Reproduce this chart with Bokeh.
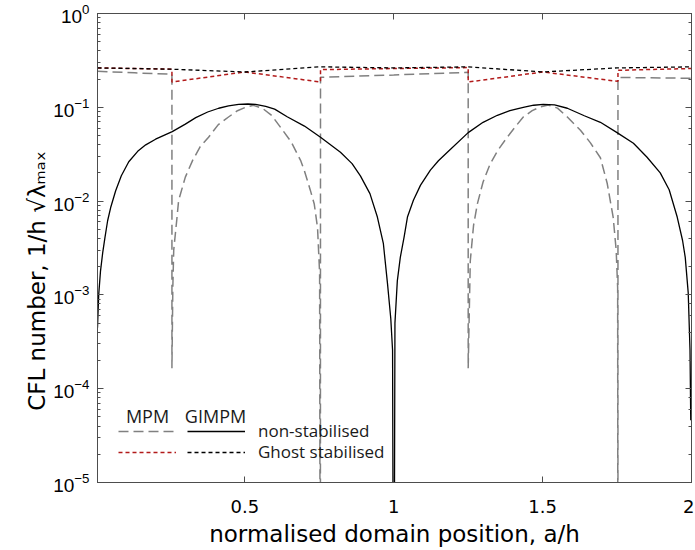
from bokeh.plotting import figure
from bokeh.models import (LogAxis, LinearAxis, FixedTicker, NumeralTickFormatter,
                          Legend, LegendItem, Range1d, Label)
from bokeh.embed import file_html
from bokeh.resources import INLINE

# ---------------- data ----------------
x_ticks = [0.5, 1.0, 1.5, 2.0]

# MPM, non-stabilised (grey dashed)
mpm_a = [0.005, 0.13, 0.255, 0.255, 0.258, 0.261, 0.271, 0.2775, 0.30, 0.3245, 0.35,
         0.378, 0.41, 0.445, 0.475, 0.502, 0.529, 0.56, 0.59, 0.62, 0.655, 0.687,
         0.70, 0.72, 0.733, 0.744, 0.751, 0.7535, 0.754,
         1.0, 1.25, 1.25, 1.257, 1.268, 1.281, 1.30, 1.324, 1.35, 1.381, 1.41,
         1.435, 1.465, 1.492, 1.519, 1.55, 1.583, 1.627, 1.66, 1.694, 1.717,
         1.737, 1.747, 1.752, 1.753, 1.753, 2.0]
mpm_cfl = [0.242, 0.233, 0.225, 1.65e-4, 1.2e-3, 3.0e-3, 6.2e-3, 0.0102, 0.018, 0.0272, 0.038,
           0.048, 0.065, 0.0788, 0.092, 0.100, 0.105, 0.097, 0.082, 0.061, 0.043, 0.0272,
           0.021, 0.013, 0.0093, 5.2e-3, 1.7e-3, 1e-8, 0.209,
           0.221, 0.236, 1.65e-4, 2.3e-3, 5.5e-3, 9.4e-3, 0.016, 0.025, 0.035, 0.048, 0.063,
           0.0788, 0.092, 0.101, 0.106, 0.098, 0.0788, 0.057, 0.042, 0.029, 0.0154,
           6.7e-3, 3.0e-3, 1.2e-3, 1e-8, 0.208, 0.204]

# GIMPM, non-stabilised (black solid)
gimpm_a = [0.005, 0.009, 0.015, 0.0225, 0.03, 0.039, 0.05, 0.066, 0.085, 0.11, 0.14,
           0.167, 0.2, 0.256, 0.3, 0.335, 0.375, 0.412, 0.445, 0.479, 0.51, 0.536,
           0.57, 0.60, 0.642, 0.70, 0.754, 0.821, 0.86, 0.888, 0.92, 0.945, 0.965,
           0.979, 0.99, 0.996, 1.0,
           1.004, 1.012, 1.022, 1.035, 1.046, 1.066, 1.09, 1.123, 1.15, 1.18, 1.25,
           1.30, 1.348, 1.39, 1.435, 1.47, 1.502, 1.54, 1.583, 1.64, 1.694, 1.75,
           1.805, 1.85, 1.895, 1.925, 1.952, 1.97, 1.979, 1.989, 1.995, 1.9975]
gimpm_cfl = [4.47e-4, 1.0e-3, 1.78e-3, 2.82e-3, 4.07e-3, 6.17e-3, 8.71e-3, 0.0129, 0.0186,
             0.0263, 0.0339, 0.0398, 0.0457, 0.0550, 0.0661, 0.0776, 0.0891, 0.0977,
             0.1035, 0.1076, 0.1084, 0.1072, 0.1023, 0.0955, 0.0794, 0.0631, 0.0479,
             0.0331, 0.0251, 0.0186, 0.0120, 6.76e-3, 3.55e-3, 1.32e-3, 5.6e-4, 2.57e-4, 1e-8,
             5.0e-4, 1.41e-3, 2.51e-3, 4.17e-3, 6.76e-3, 0.0102, 0.0148, 0.0214, 0.0269,
             0.0331, 0.0537, 0.0692, 0.0822, 0.0923, 0.100, 0.1052, 0.1076, 0.1059,
             0.0977, 0.0813, 0.0692, 0.0537, 0.0413, 0.0295, 0.0200, 0.0132, 6.76e-3,
             3.80e-3, 2.51e-3, 1.05e-3, 2.57e-4, 4.6e-5]

# MPM, Ghost stabilised (red dotted)
mpm_ghost_a = [0.005, 0.255, 0.255, 0.5, 0.754, 0.754, 1.0, 1.25, 1.25, 1.5, 1.753, 1.753, 2.0]
mpm_ghost_cfl = [0.263, 0.255, 0.186, 0.238, 0.186, 0.252, 0.259, 0.265, 0.186, 0.238,
                 0.189, 0.248, 0.259]

# GIMPM, Ghost stabilised (black dotted)
gimpm_ghost_a = [0.005, 0.25, 0.5, 0.75, 1.0, 1.25, 1.5, 1.75, 2.0]
gimpm_ghost_cfl = [0.263, 0.255, 0.238, 0.27, 0.263, 0.27, 0.238, 0.263, 0.27]

legend_columns = ["MPM", "GIMPM"]
legend_rows = ["non-stabilised", "Ghost stabilised"]

# ---------------- figure ----------------
AX_COL = "#4d4d4d"
p = figure(width=694, height=549,
           x_range=Range1d(0.005, 2.0), y_range=Range1d(1e-5, 1.0),
           y_axis_type="log", output_backend="svg", toolbar_location=None,
           min_border_left=97, min_border_right=3, min_border_top=13,
           min_border_bottom=67)
p.grid.visible = False
p.outline_line_color = AX_COL
p.background_fill_color = "white"
p.border_fill_color = "white"

r_mpm = p.line(mpm_a, mpm_cfl, line_color="#808080", line_width=1.5, line_dash="10 5")
r_mpm_ghost = p.line(mpm_ghost_a, mpm_ghost_cfl, line_color="#b21a1a", line_width=1.5,
                     line_dash="4 3")
r_gimpm = p.line(gimpm_a, gimpm_cfl, line_color="black", line_width=1.3)
r_gimpm_ghost = p.line(gimpm_ghost_a, gimpm_ghost_cfl, line_color="black", line_width=1.3,
                       line_dash="4 3")

# x axis
xa = p.xaxis[0]
xa.ticker = FixedTicker(ticks=x_ticks)
xa.formatter = NumeralTickFormatter(format="0.[0]")
xa.axis_label = "normalised domain position, a/h"
xa.axis_label_text_font = "DejaVu Sans"
xa.axis_label_text_font_size = "23px"
xa.axis_label_text_font_style = "normal"
xa.axis_label_standoff = 5
xa.major_label_text_font = "DejaVu Sans"
xa.major_label_text_font_size = "18px"
xa.major_label_standoff = 17

# y axis
ya = p.yaxis[0]
ya.axis_label = "CFL number, 1/h \u221a\u03bb\u2098\u2090\u2093" + "\u00a0" * 9
ya.axis_label_text_font = "DejaVu Sans"
ya.axis_label_text_font_size = "23px"
ya.axis_label_text_font_style = "normal"
ya.axis_label_standoff = 0
ya.major_label_text_font = "Liberation Sans"
ya.major_label_text_font_size = "19px"
ya.major_label_standoff = 8

for ax in (xa, ya):
    ax.axis_line_color = AX_COL
    ax.major_tick_line_color = AX_COL
    ax.minor_tick_line_color = AX_COL
    ax.major_tick_in = 6
    ax.major_tick_out = 0
    ax.minor_tick_in = 3
    ax.minor_tick_out = 0
    ax.major_label_text_color = "black"
    ax.axis_label_text_color = "black"
xa.minor_tick_line_color = None

# mirrored axes (ticks only)
top = LinearAxis(ticker=FixedTicker(ticks=x_ticks), major_label_text_font_size="1px",
                 major_label_text_alpha=0, major_label_standoff=0,
                 major_tick_in=6, major_tick_out=0,
                 minor_tick_line_color=None, axis_line_color=AX_COL,
                 major_tick_line_color=AX_COL)
p.add_layout(top, "above")
right = LogAxis(major_label_text_font_size="1px", major_label_text_alpha=0,
                major_label_standoff=0,
                major_tick_in=6, major_tick_out=0, minor_tick_in=3, minor_tick_out=0,
                axis_line_color=AX_COL, major_tick_line_color=AX_COL,
                minor_tick_line_color=AX_COL)
p.add_layout(right, "right")

# legend: two glyph columns (MPM | GIMPM), one label per row
common = dict(padding=0, margin=0, border_line_color=None, background_fill_alpha=0,
              glyph_width=58, glyph_height=22, label_height=22, spacing=0,
              label_text_font="Open Sans", label_text_font_size="17px",
              label_text_color="#1a1a1a", label_standoff=13)
leg_specs = [
    (r_mpm, "\u00a0", (21, 40)),
    (r_mpm_ghost, "\u00a0", (21, 19)),
    (r_gimpm, legend_rows[0], (90, 40)),
    (r_gimpm_ghost, legend_rows[1], (90, 19)),
]
for rend, lab, loc in leg_specs:
    p.add_layout(Legend(items=[LegendItem(label=lab, renderers=[rend])],
                        location=loc, **common))

for name, xc in zip(legend_columns, (50, 118)):
    p.add_layout(Label(x=xc, y=67, x_units="screen", y_units="screen", text=name,
                       text_font="Open Sans", text_font_size="18px",
                       text_color="#1a1a1a", text_align="center",
                       text_baseline="middle"))

open("out.html", "w").write(file_html(p, INLINE))
